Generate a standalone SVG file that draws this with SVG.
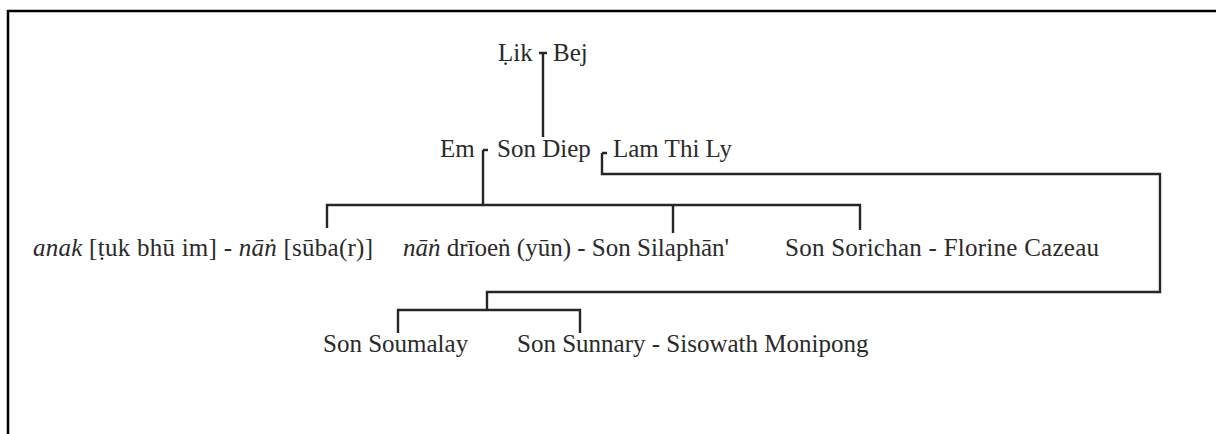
<svg xmlns="http://www.w3.org/2000/svg" width="1216" height="434" viewBox="0 0 1216 434">
<style>
text{font-family:"Liberation Serif","Times New Roman",serif;font-size:25px;fill:#2a2a2a}
.i{font-style:italic}
.c{fill:none;stroke:#262626;stroke-width:2.4}
</style>
<rect width="1216" height="434" fill="#fff"/>
<path d="M8,434 V11 H1216" fill="none" stroke="#000" stroke-width="2.5"/>
<g id="connectors">
<path class="c" d="M539,53 H547 M543,53 V137"/>
<path class="c" d="M483,150 H488 M483,150 V205 M327,228 V205 H860 V230 M673,205 V233"/>
<path class="c" d="M602,153 H607 M602,153 V174 H1160 V292 H487 V310 M398,333 V310 H580 V333"/>
</g>
<g id="n-lik"><text x="498" y="61">Ḷik</text></g>
<g id="n-bej"><text x="553" y="61">Bej</text></g>
<g id="n-em"><text x="440" y="157">Em</text></g>
<g id="n-sondiep"><text x="497" y="157">Son Diep</text></g>
<g id="n-lamthily"><text x="613" y="157">Lam Thi Ly</text></g>
<g id="n-anak"><text x="33" y="256" textLength="340" lengthAdjust="spacing"><tspan class="i">anak</tspan> [ṭuk bhū im] - <tspan class="i">nāṅ</tspan> [sūba(r)]</text></g>
<g id="n-silaphan"><text x="403" y="256"><tspan class="i">nāṅ</tspan> drīoeṅ (yūn) - Son Silaphān'</text></g>
<g id="n-sorichan"><text x="785" y="256" textLength="314" lengthAdjust="spacing">Son Sorichan - Florine Cazeau</text></g>
<g id="n-soumalay"><text x="323" y="352">Son Soumalay</text></g>
<g id="n-sunnary"><text x="517" y="352">Son Sunnary - Sisowath Monipong</text></g>
</svg>
